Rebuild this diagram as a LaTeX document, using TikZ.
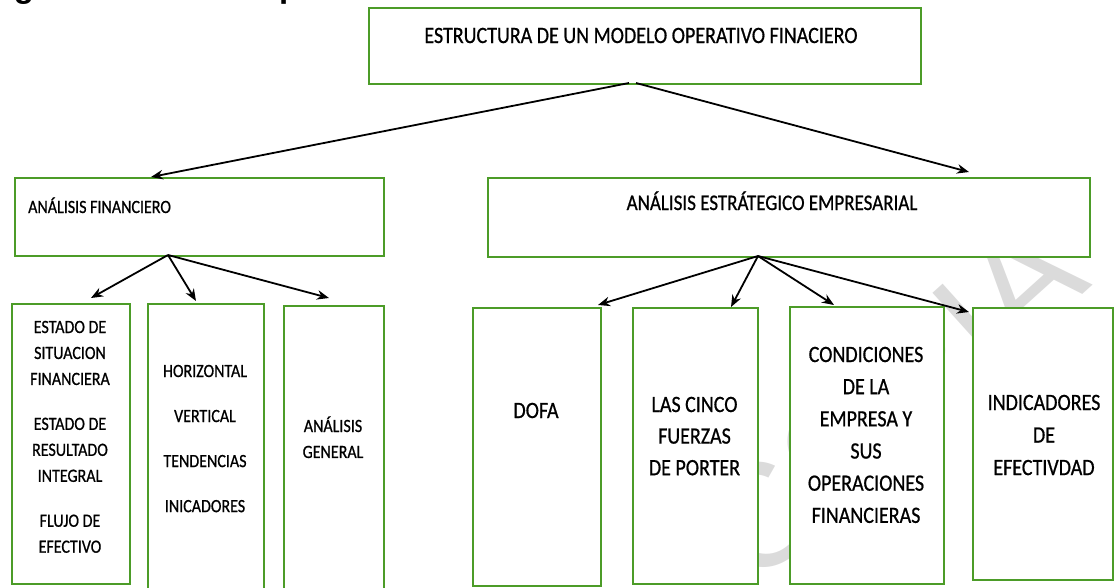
\documentclass[tikz,border=0pt]{standalone}
\usepackage{fontspec}
\usepackage{graphicx}
\setmainfont{Carlito}[FakeBold=0.8]
\newfontfamily\capfont{Liberation Sans}
\usetikzlibrary{arrows.meta,calc}
\definecolor{boxgreen}{RGB}{76,156,40}
\newcommand{\vst}[1]{\scalebox{1}[1.17]{#1}}
\begin{document}
\begin{tikzpicture}[x=1pt,y=1pt,
  gbox/.style={draw=boxgreen, fill=white, line width=2pt, inner sep=0pt, anchor=north west},
  txt/.style={inner sep=0pt, anchor=base},
  arr/.style={-{Stealth[length=12pt,width=9.5pt]}, line width=1.8pt, black}]
\useasboundingbox (0,0) rectangle (1115,-587);
\clip (0,0) rectangle (1115,-587);
% watermark
\node[text=black!14, rotate=42, inner sep=0pt, font=\capfont\fontsize{147}{147}\selectfont] (wm) at (890,-400) {COPIA};
% caption (cut off at the top)
\node[anchor=base west, inner sep=0pt, font=\capfont\bfseries\fontsize{33}{33}\selectfont] (cap) at (-15.6,3) {Figura 4. Modelo operativo financiero};
% boxes
\node[gbox, minimum width=552pt, minimum height=76pt] (top) at (368,-7) {};
\node[gbox, minimum width=369pt, minimum height=78pt] (af) at (14,-177) {};
\node[gbox, minimum width=602pt, minimum height=79pt] (aee) at (487,-177) {};
\node[gbox, minimum width=118pt, minimum height=280pt] (b1) at (11,-303) {};
\node[gbox, minimum width=116pt, minimum height=290pt] (b2) at (147,-303) {};
\node[gbox, minimum width=100pt, minimum height=288pt] (b3) at (283,-305) {};
\node[gbox, minimum width=128pt, minimum height=278pt] (dofa) at (472,-307) {};
\node[gbox, minimum width=125pt, minimum height=276pt] (porter) at (632,-307) {};
\node[gbox, minimum width=154pt, minimum height=277pt] (cond) at (789,-306) {};
\node[gbox, minimum width=140pt, minimum height=272pt] (ind) at (972,-307) {};
% texts
\node[txt] (ttop) at (641,-43) {\vst{\fontsize{20}{24}\selectfont ESTRUCTURA DE UN MODELO OPERATIVO FINACIERO}};
\node[txt, anchor=base west] (taf) at (28,-213) {\vst{\fontsize{16}{20}\selectfont ANÁLISIS FINANCIERO}};
\node[txt] (taee) at (772,-210) {\vst{\fontsize{19}{23}\selectfont ANÁLISIS ESTRÁTEGICO EMPRESARIAL}};
\node[txt] (tb1) at (70,-333) {\vst{\fontsize{16}{22.2}\selectfont\begin{tabular}[t]{@{}c@{}}ESTADO DE\\SITUACION\\FINANCIERA\\[16.2pt]ESTADO DE\\RESULTADO\\INTEGRAL\\[16.2pt]FLUJO DE\\EFECTIVO\end{tabular}}};
\node[txt] (tb2) at (205,-377) {\vst{\fontsize{16}{38.5}\selectfont\begin{tabular}[t]{@{}c@{}}HORIZONTAL\\VERTICAL\\TENDENCIAS\\INICADORES\end{tabular}}};
\node[txt] (tb3) at (333,-432) {\vst{\fontsize{16}{22.2}\selectfont\begin{tabular}[t]{@{}c@{}}ANÁLISIS\\GENERAL\end{tabular}}};
\node[txt] (tdofa) at (536,-418) {\vst{\fontsize{20}{24}\selectfont DOFA}};
\node[txt] (tporter) at (694.5,-412) {\vst{\fontsize{20}{27}\selectfont\begin{tabular}[t]{@{}c@{}}LAS CINCO\\FUERZAS\\DE PORTER\end{tabular}}};
\node[txt] (tcond) at (866,-362) {\vst{\fontsize{20}{27.5}\selectfont\begin{tabular}[t]{@{}c@{}}CONDICIONES\\DE LA\\EMPRESA Y\\SUS\\OPERACIONES\\FINANCIERAS\end{tabular}}};
\node[txt] (tind) at (1044,-410) {\vst{\fontsize{20}{27.8}\selectfont\begin{tabular}[t]{@{}c@{}}INDICADORES\\DE\\EFECTIVDAD\end{tabular}}};
% arrow origins
\coordinate (o1) at ($(top.south)+(-16,2)$);
\coordinate (o2) at ($(top.south)+(-9,2)$);
\coordinate (oaf) at ($(af.south)+(-31.5,2)$);
\coordinate (oaee) at ($(aee.south)+(-31,2)$);
% arrows
\draw[arr] (o1) -- ($(af.north)+(-48.5,0)$);
\draw[arr] (o2) -- ($(aee.north)+(180,5)$);
\draw[arr] (oaf) -- ($(b1.north)+(20,5)$);
\draw[arr] (oaf) -- ($(b2.north)+(-10,2)$);
\draw[arr] (oaf) -- ($(b3.north)+(-5,7)$);
\draw[arr] (oaee) -- ($(dofa.north)+(61,2)$);
\draw[arr] (oaee) -- ($(porter.north)+(35.5,0)$);
\draw[arr] (oaee) -- ($(cond.north)+(-33,1)$);
\draw[arr] (oaee) -- ($(ind.north)+(-74,-5)$);
\end{tikzpicture}
\end{document}
